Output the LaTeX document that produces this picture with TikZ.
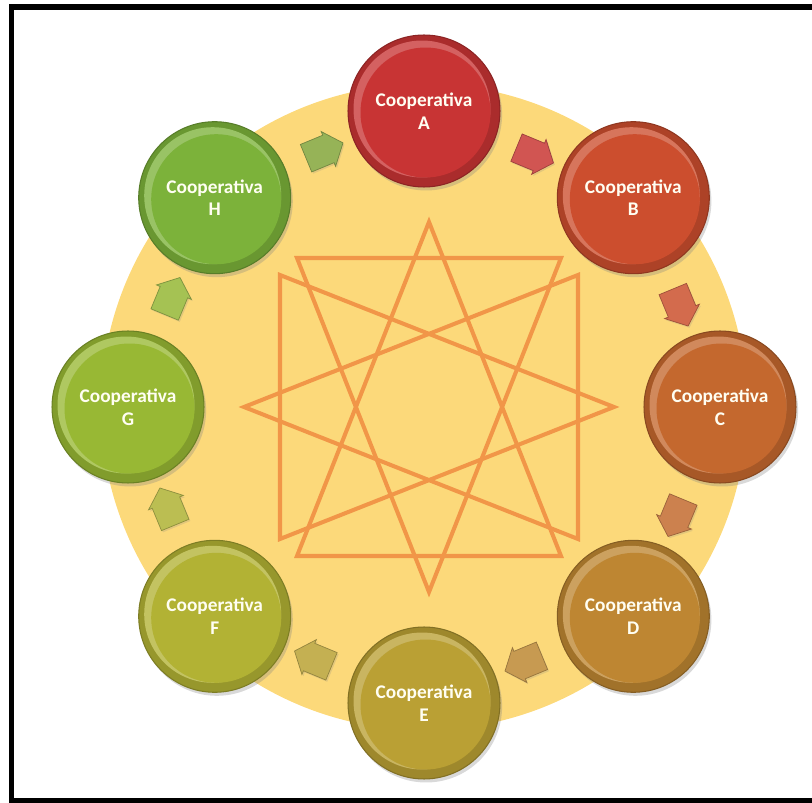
\documentclass[tikz,border=0pt]{standalone}
\usepackage{fontspec}
\setsansfont{Carlito}
\usetikzlibrary{calc,shapes.arrows,shadows}
\definecolor{ringcol}{RGB}{252,217,122}
\definecolor{starcol}{RGB}{241,150,72}
\definecolor{colA}{RGB}{200,52,52}
\definecolor{colB}{RGB}{204,78,46}
\definecolor{colC}{RGB}{196,104,46}
\definecolor{colD}{RGB}{190,134,50}
\definecolor{colE}{RGB}{186,160,52}
\definecolor{colF}{RGB}{178,178,52}
\definecolor{colG}{RGB}{152,184,52}
\definecolor{colH}{RGB}{124,178,58}

\begin{document}
\begin{tikzpicture}[
    x=0.02cm, y=0.02cm,
    coop/.style={circle, minimum size=3.04cm, inner sep=0pt, draw=#1!70!black, line width=0.6pt,
        fill=#1!85!black, text=white!95!yellow, align=center,
        font=\sffamily\bfseries\fontsize{11}{13}\selectfont,
        drop shadow={opacity=0.3, shadow xshift=1.2pt, shadow yshift=-2pt},
        path picture={
            \fill[#1!78!white] ($(path picture bounding box.center)+(-2,2)$) circle (1.37cm);
            \fill[#1] ($(path picture bounding box.center)+(1.5,-1.5)$) circle (1.3cm);
        }},
    flow/.style={single arrow, minimum height=0.8cm, inner xsep=0pt, inner ysep=0.29cm,
        single arrow head extend=0.08cm, single arrow tip angle=100,
        fill=#1, draw=#1!75!black, line width=0.4pt,
        drop shadow={opacity=0.2, shadow xshift=0.8pt, shadow yshift=-1pt}},
    starline/.style={draw=starcol, line width=2.3pt, line join=miter},
]
\useasboundingbox (0,0) rectangle (812,802);
\coordinate (ctr) at (424,395);
\coordinate (starc) at (429,395);

% frame
\draw[line width=2.9pt] (812,795) -- (11.5,795) -- (11.5,1) -- (812,1);

% ring and star
\fill[ringcol] (ctr) circle (323);
\foreach \ang in {90,0,-90,180} {
    \begin{scope}[shift={(starc)}, rotate=\ang]
        \draw[starline] (185,0) -- (-149,132) -- (-149,-132) -- cycle;
    \end{scope}
}

% arrows between the cooperatives
\foreach \a/\b [count=\i] in {A/B,B/C,C/D,D/E,E/F,F/G,G/H,H/A} {
    \node[flow={col\a!90!col\b!85!white}, rotate={-22.5-45*(\i-1)}] (flow\i)
        at ($(ctr)+({67.5-45*(\i-1)}:275)$) {};
}

% cooperatives
\foreach \n/\ang in {A/90,B/45,C/0,D/-45,E/-90,F/-135,G/180,H/135} {
    \node[coop=col\n] (coop\n) at ($(ctr)+(\ang:296)$) {Cooperativa\\\n};
}
\end{tikzpicture}
\end{document}
